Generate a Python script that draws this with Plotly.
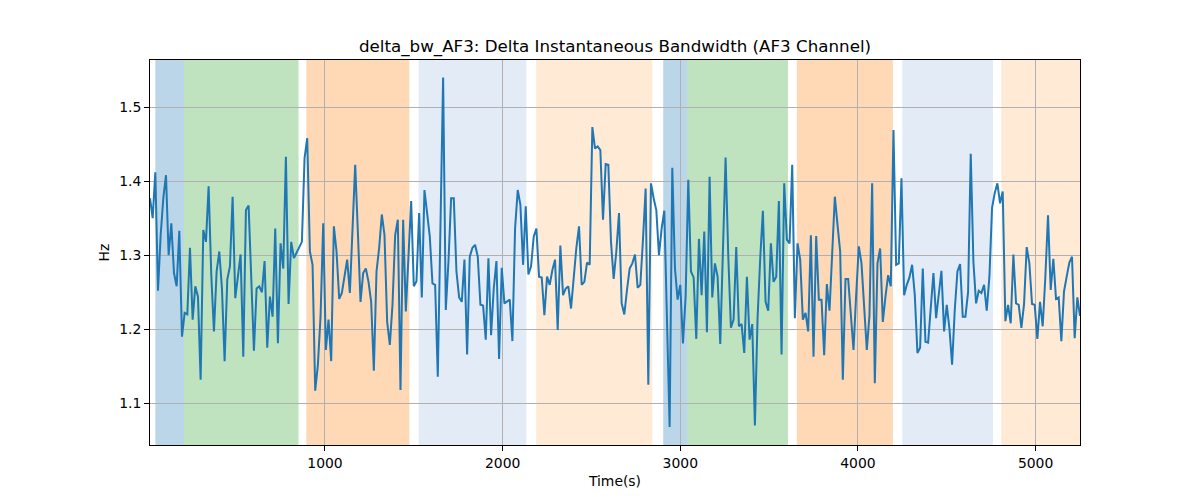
import plotly.graph_objects as go

# ---- data ----
t_start = 15
t_step = 15

bw_values = [
    # segment 1
    1.377, 1.35, 1.412, 1.252, 1.327, 1.377, 1.408, 1.30, 1.343, 1.276, 1.258, 1.333,
    1.19, 1.222, 1.22, 1.31, 1.213, 1.258, 1.244, 1.132, 1.334, 1.318, 1.393, 1.273,
    1.197, 1.278, 1.305, 1.255, 1.157, 1.267, 1.285, 1.379, 1.242, 1.273, 1.301, 1.163,
    # segment 2
    1.361, 1.367, 1.255, 1.171, 1.255, 1.258, 1.25, 1.292, 1.175, 1.244, 1.217, 1.336,
    1.181, 1.316, 1.282, 1.433, 1.234, 1.318, 1.296, 1.303, 1.31, 1.318, 1.431, 1.458,
    1.305, 1.287, 1.117, 1.152, 1.217, 1.343, 1.172, 1.213, 1.157, 1.339, 1.305,
    # segment 3
    1.241, 1.249, 1.269, 1.294, 1.249, 1.336, 1.422, 1.332, 1.237, 1.276, 1.282, 1.264,
    1.237, 1.144, 1.278, 1.31, 1.355, 1.327, 1.21, 1.179, 1.233, 1.327, 1.348, 1.118,
    1.348, 1.224, 1.305, 1.373, 1.258, 1.265, 1.357, 1.243, 1.388, 1.359,
    # segment 4
    1.325, 1.262, 1.26, 1.136, 1.318, 1.54, 1.226, 1.291, 1.377, 1.377, 1.278, 1.243,
    1.237, 1.294, 1.166, 1.298, 1.31, 1.314, 1.298, 1.233, 1.232, 1.186, 1.296, 1.192,
    1.255, 1.292, 1.16, 1.283, 1.235, 1.237, 1.24, 1.184, 1.336, 1.388, 1.368,
    # segment 5
    1.287, 1.366, 1.274, 1.285, 1.325, 1.336, 1.271, 1.27, 1.219, 1.271, 1.26, 1.28,
    1.294, 1.199, 1.313, 1.246, 1.255, 1.258, 1.228, 1.273, 1.31, 1.339, 1.26, 1.264,
    1.29, 1.287, 1.473, 1.444, 1.447, 1.442, 1.348, 1.423, 1.422, 1.318,
    # segment 6
    1.268, 1.305, 1.357, 1.235, 1.22, 1.253, 1.282, 1.289, 1.301, 1.256, 1.26, 1.321,
    1.39, 1.125, 1.397, 1.377, 1.361, 1.30, 1.336, 1.36, 1.195, 1.068, 1.418, 1.282,
    1.24, 1.26, 1.181, 1.244, 1.402, 1.278, 1.27, 1.187, 1.322, 1.246, 1.332,
    # segment 7
    1.196, 1.406, 1.243, 1.289, 1.271, 1.18, 1.305, 1.432, 1.30, 1.202, 1.213, 1.311,
    1.204, 1.207, 1.168, 1.271, 1.186, 1.207, 1.07, 1.215, 1.296, 1.36, 1.237, 1.225,
    1.316, 1.264, 1.271, 1.373, 1.166, 1.397, 1.321, 1.316, 1.422, 1.215,
    # segment 8
    1.316, 1.294, 1.213, 1.222, 1.197, 1.327, 1.163, 1.326, 1.24, 1.24, 1.165, 1.261,
    1.225, 1.30, 1.379, 1.341, 1.305, 1.132, 1.268, 1.268, 1.219, 1.172, 1.246, 1.312,
    1.289, 1.228, 1.172, 1.219, 1.397, 1.127, 1.289, 1.309, 1.21, 1.244, 1.273,
    # segment 9
    1.258, 1.469, 1.287, 1.289, 1.404, 1.246, 1.26, 1.27, 1.287, 1.246, 1.168, 1.175,
    1.282, 1.183, 1.182, 1.224, 1.276, 1.215, 1.246, 1.279, 1.197, 1.233, 1.201, 1.152,
    1.226, 1.278, 1.288, 1.217, 1.217, 1.25, 1.437, 1.291, 1.235, 1.252,
    # segment 10
    1.249, 1.26, 1.225, 1.271, 1.364, 1.384, 1.397, 1.37, 1.386, 1.211, 1.233, 1.208,
    1.301, 1.235, 1.233, 1.202, 1.234, 1.311, 1.289, 1.234, 1.233, 1.187, 1.237, 1.204,
    1.271, 1.354, 1.253, 1.295, 1.241, 1.243, 1.184, 1.251, 1.271, 1.29, 1.298, 1.188,
    1.243, 1.218,
]
times = [t_start + t_step * i for i in range(len(bw_values))]

span_starts = [45, 206, 895, 1527, 2189, 2904, 3039, 3656, 4250, 4807]
span_ends = [206, 851, 1475, 2133, 2842, 3039, 3606, 4197, 4760, 5300]
span_kinds = ["blue", "green", "orange", "lightblue", "lightorange",
              "blue", "green", "orange", "lightblue", "lightorange"]

x_ticks = [1000, 2000, 3000, 4000, 5000]
y_ticks = [1.1, 1.2, 1.3, 1.4, 1.5]

title_text = "delta_bw_AF3: Delta Instantaneous Bandwidth (AF3 Channel)"
x_label = "Time(s)"
y_label = "Hz"

# ---- style ----
span_colors = {
    "blue": "rgba(31,119,180,0.3)",
    "green": "rgba(44,160,44,0.3)",
    "orange": "rgba(255,127,14,0.3)",
    "lightblue": "rgba(174,199,232,0.35)",
    "lightorange": "rgba(255,187,120,0.3)",
}

FONT = "DejaVu Sans"

fig = go.Figure()
fig.add_trace(go.Scatter(
    x=times, y=bw_values, mode="lines",
    line=dict(color="#1f77b4", width=2),
    showlegend=False, hoverinfo="skip",
))

for s, e, k in zip(span_starts, span_ends, span_kinds):
    fig.add_vrect(x0=s, x1=e, fillcolor=span_colors[k], opacity=1,
                  line=dict(width=0), layer="below")

x_min = times[0]
x_max = times[-1]
# the page body adds an 8px offset, so margins compensate for it
fig.update_layout(
    width=1200, height=500,
    margin=dict(l=142, r=128, t=52, b=63),
    paper_bgcolor="white", plot_bgcolor="white",
    font=dict(family=FONT, size=13.9, color="black"),
    title=dict(text=title_text, x=0.5, xanchor="center", xref="paper",
               y=0.924, yanchor="middle", yref="container",
               font=dict(family=FONT, size=16.7, color="black")),
    showlegend=False,
)
fig.update_xaxes(
    range=[x_min, x_max], tickvals=x_ticks,
    showgrid=True, gridcolor="#b0b0b0", gridwidth=0.8,
    showline=True, linecolor="black", linewidth=1, mirror=True,
    ticks="outside", ticklen=5, tickcolor="black", tickwidth=1,
    zeroline=False,
    title=dict(text=x_label, standoff=6, font=dict(family=FONT, size=13.9)),
)
fig.update_yaxes(
    range=[1.0437, 1.5636], tickvals=y_ticks, tickformat=".1f",
    showgrid=True, gridcolor="#b0b0b0", gridwidth=0.8,
    showline=True, linecolor="black", linewidth=1, mirror=True,
    ticks="outside", ticklen=5, tickcolor="black", tickwidth=1,
    zeroline=False,
    title=dict(text=y_label, standoff=6, font=dict(family=FONT, size=13.9)),
)

fig.write_html("out.html")
